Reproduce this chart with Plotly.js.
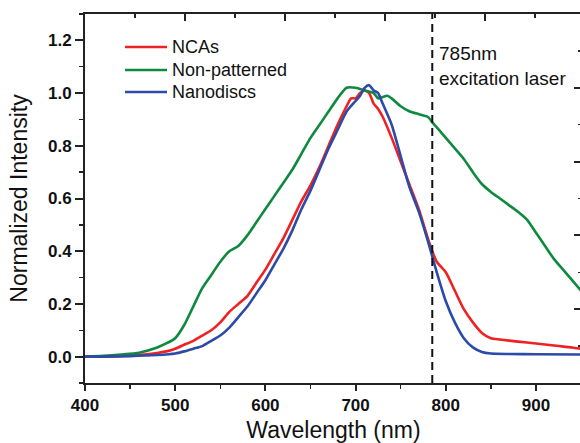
<!DOCTYPE html>
<html>
<head>
<meta charset="utf-8">
<script src="https://cdn.plot.ly/plotly-3.0.1.min.js"></script>
<style>
html,body{margin:0;padding:0;background:#fff;overflow:hidden;}
#chart{width:584px;height:443px;}
</style>
</head>
<body>
<div id="chart"></div>
<script>
// ---- data ----
const seriesNames = ["NCAs", "Non-patterned", "Nanodiscs"];

const ncaWl = [400,420,440,460,480,490,500,510,520,530,540,550,560,570,580,590,600,610,620,630,640,650,660,670,680,690,695,700,705,710,715,720,725,730,740,750,760,770,780,785,790,800,810,820,830,840,850,860,880,900,920,940,950];
const ncaInt = [0.0,0.0,0.003,0.007,0.014,0.02,0.03,0.045,0.06,0.08,0.10,0.13,0.17,0.20,0.23,0.28,0.33,0.39,0.45,0.52,0.59,0.65,0.72,0.80,0.88,0.95,0.98,0.98,1.0,1.01,1.0,0.96,0.94,0.91,0.83,0.74,0.65,0.56,0.45,0.40,0.36,0.32,0.25,0.18,0.13,0.09,0.07,0.065,0.057,0.05,0.042,0.035,0.03];

const npWl = [400,420,440,460,480,490,500,510,520,530,540,550,560,570,580,590,600,610,620,630,640,650,660,670,680,690,700,710,720,725,735,740,750,760,770,775,780,786,790,800,810,820,830,840,850,860,870,880,890,900,910,920,930,940,950];
const npInt = [0.0,0.003,0.008,0.015,0.035,0.05,0.07,0.12,0.19,0.26,0.31,0.36,0.40,0.42,0.46,0.51,0.56,0.61,0.66,0.71,0.77,0.83,0.88,0.93,0.98,1.02,1.02,1.01,1.0,0.98,0.99,0.98,0.95,0.93,0.92,0.915,0.91,0.885,0.87,0.83,0.79,0.75,0.70,0.655,0.625,0.60,0.575,0.55,0.52,0.47,0.42,0.37,0.33,0.29,0.25];

const ndWl = [400,450,480,500,510,520,530,540,550,560,570,580,590,600,610,620,630,640,650,660,670,680,690,700,705,710,715,720,725,730,740,750,760,770,780,790,800,810,820,830,840,850,870,900,950];
const ndInt = [0.0,0.002,0.006,0.012,0.02,0.03,0.04,0.06,0.08,0.11,0.15,0.19,0.24,0.29,0.35,0.41,0.48,0.56,0.63,0.71,0.79,0.86,0.93,0.97,0.99,1.02,1.03,1.01,1.0,0.96,0.88,0.76,0.64,0.55,0.44,0.32,0.21,0.13,0.07,0.035,0.018,0.012,0.01,0.009,0.008];

const laserNm = [785];
const laserLabel = ["785nm", "excitation laser"];

const xTitle = "Wavelength (nm)";
const yTitle = "Normalized Intensity";

const colors = ["#ee2222", "#0e8a3f", "#2c4aa8"];

// ---- chart ----
const font = 'Arial, "Liberation Sans", sans-serif';
const axColor = "#222";

const xs = [ncaWl, npWl, ndWl];
const ys = [ncaInt, npInt, ndInt];

const traces = seriesNames.map((n, i) => ({
  x: xs[i], y: ys[i], name: n, mode: "lines", showlegend: false,
  line: {color: colors[i], width: 2.6, shape: "spline", smoothing: 0.6}
}));
traces.push({x: [], y: [], xaxis: "x2", yaxis: "y2", showlegend: false, hoverinfo: "skip", mode: "lines"});

// custom legend (paper coordinates of the plot area: 85..582 px wide, 14..383 px tall)
const legRowsPx = [47, 70, 92];
const pxToPaperX = px => (px - 85) / 497;
const pxToPaperY = py => (383 - py) / 369;

const legendShapes = seriesNames.map((n, i) => ({
  type: "line", xref: "paper", yref: "paper",
  x0: pxToPaperX(125), x1: pxToPaperX(167),
  y0: pxToPaperY(legRowsPx[i]), y1: pxToPaperY(legRowsPx[i]),
  line: {color: colors[i], width: 2.6}
}));
const legendAnns = seriesNames.map((n, i) => ({
  xref: "paper", yref: "paper", x: pxToPaperX(170), y: pxToPaperY(legRowsPx[i]),
  xanchor: "left", yanchor: "middle", showarrow: false, text: n,
  font: {family: font, size: 18, color: "#111"}
}));

const layout = {
  width: 584, height: 443,
  margin: {l: 85, r: 2, t: 14, b: 60},
  paper_bgcolor: "#fff", plot_bgcolor: "#fff",
  font: {family: font, color: "#111"},
  showlegend: false,
  xaxis: {
    range: [400, 951], dtick: 100, tick0: 0,
    showline: true, linecolor: axColor, linewidth: 2, mirror: true,
    ticks: "outside", ticklen: 6, tickwidth: 2, tickcolor: axColor,
    minor: {ticks: "outside", ticklen: 4, tickwidth: 1.5, dtick: 50, tickcolor: axColor, showgrid: false},
    showgrid: false, zeroline: false,
    tickfont: {family: font, size: 17, weight: "bold", color: "#111"},
    title: {text: xTitle, font: {family: font, size: 23, color: "#111"}, standoff: 8}
  },
  yaxis: {
    range: [-0.1, 1.3], dtick: 0.2, tick0: 0, tickformat: ".1f",
    showline: true, linecolor: axColor, linewidth: 2, mirror: true,
    ticks: "outside", ticklen: 8, tickwidth: 2, tickcolor: axColor,
    minor: {ticks: "outside", ticklen: 4, tickwidth: 1.5, dtick: 0.1, tickcolor: axColor, showgrid: false},
    showgrid: false, zeroline: false,
    tickfont: {family: font, size: 17, weight: "bold", color: "#111"},
    title: {text: yTitle, font: {family: font, size: 23, color: "#111"}, standoff: 14}
  },
  xaxis2: {
    overlaying: "x", side: "top", anchor: "y2", range: [0, 4.97], dtick: 1,
    showline: false, showgrid: false, zeroline: false, showticklabels: false,
    ticks: "inside", ticklen: 7, tickwidth: 2, tickcolor: axColor,
    minor: {ticks: "inside", ticklen: 4, tickwidth: 1.5, dtick: 0.5, tickcolor: axColor}
  },
  yaxis2: {
    overlaying: "y", side: "right", anchor: "x2", range: [0, 5], dtick: 1,
    showline: false, showgrid: false, zeroline: false, showticklabels: false,
    ticks: "inside", ticklen: 8, tickwidth: 2, tickcolor: axColor,
    minor: {ticks: "inside", ticklen: 4, tickwidth: 1.5, dtick: 0.5, tickcolor: axColor}
  },
  shapes: laserNm.map(v => ({
    type: "line", xref: "x", yref: "paper", x0: v, x1: v, y0: 0, y1: 1,
    line: {color: "#111", width: 2, dash: "8px,5px"}
  })).concat(legendShapes),
  annotations: [{
    xref: "x", yref: "paper", x: laserNm[0] + 5, y: pxToPaperY(41),
    xanchor: "left", yanchor: "top", align: "left", showarrow: false,
    text: laserLabel.join("<br>"),
    font: {family: font, size: 19, color: "#111"}
  }].concat(legendAnns)
};

Plotly.newPlot("chart", traces, layout, {displayModeBar: false, staticPlot: true});
</script>
</body>
</html>
